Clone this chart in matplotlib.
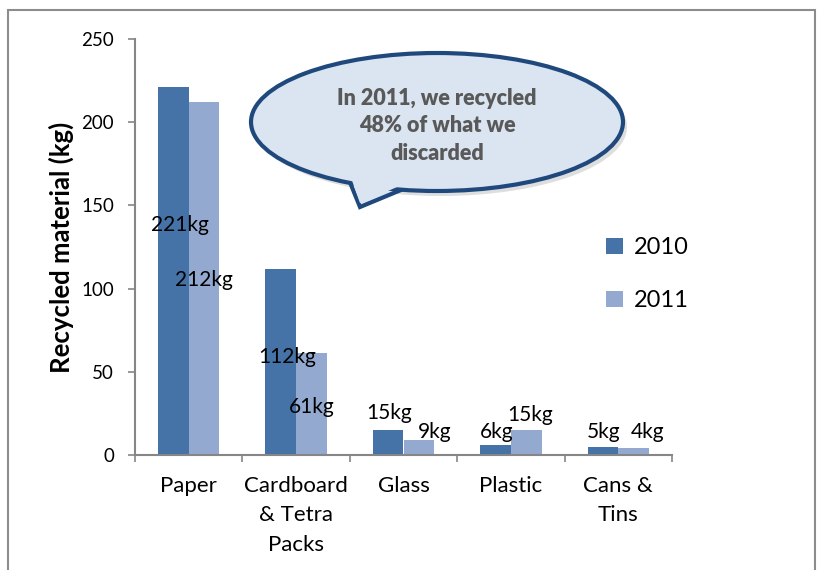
import numpy as np
import matplotlib.pyplot as plt
from matplotlib.patches import Rectangle, Ellipse, Polygon

categories = ['Paper', 'Cardboard\n& Tetra\nPacks', 'Glass', 'Plastic', 'Cans &\nTins']
kg_2010 = [221, 112, 15, 6, 5]
kg_2011 = [212, 61, 9, 15, 4]
years = ['2010', '2011']
y_ticks = [0, 50, 100, 150, 200, 250]

# where the labels sit (x offset from category centre, y in data units)
lab_2010 = [(-0.08, 138), (-0.08, 59), (-0.136, 25), (-0.136, 14), (-0.136, 14)]
lab_2011 = [(0.145, 105), (0.145, 29), (0.294, 14), (0.18, 24), (0.276, 14)]

c2010 = '#4572a7'
c2011 = '#93a9cf'
axis_grey = '#868686'
font = 'Lato'

fig = plt.figure(figsize=(8.17, 5.70), dpi=100)
W, H = 817, 570

# outer chart frame
fig.patches.append(Rectangle((8/W, -0.05), (815-8)/W, (H-10)/H + 0.05,
                             transform=fig.transFigure, fill=False,
                             edgecolor='#8c8c8c', linewidth=1.5))

ax = fig.add_axes([135/W, (H-455)/H, (672-135)/W, (455-39)/H])
x = np.arange(len(categories))
w = 0.285
ax.bar(x - w/2, kg_2010, w, color=c2010, label=years[0])
ax.bar(x + w/2, kg_2011, w, color=c2011, label=years[1])

ax.set_xlim(-0.5, len(categories) - 0.5)
ax.set_ylim(0, 250)
ax.set_yticks(y_ticks)
ax.set_yticklabels([str(t) for t in y_ticks], fontsize=13.5, family=font)
ax.set_xticks(x)
ax.set_xticklabels(categories, fontsize=16, family=font, linespacing=1.6)
ax.set_xticks(np.arange(len(categories) + 1) - 0.5, minor=True)
ax.tick_params(axis='x', which='major', length=0, pad=15)
ax.tick_params(axis='x', which='minor', length=5, color=axis_grey, width=1.2)
ax.tick_params(axis='y', length=5, color=axis_grey, width=1.2, pad=10)
for s in ['top', 'right']:
    ax.spines[s].set_visible(False)
for s in ['left', 'bottom']:
    ax.spines[s].set_color(axis_grey)
    ax.spines[s].set_linewidth(1.5)

ax.set_ylabel('Recycled material (kg)', fontsize=18.5, fontweight='bold', family=font, labelpad=5)

for i in range(len(categories)):
    dx, yy = lab_2010[i]
    ax.text(i + dx, yy, f'{kg_2010[i]}kg', ha='center', va='center', fontsize=15, family=font)
    dx, yy = lab_2011[i]
    ax.text(i + dx, yy, f'{kg_2011[i]}kg', ha='center', va='center', fontsize=15, family=font)

leg = ax.legend(loc='upper left', bbox_to_anchor=((597-135)/(672-135), (455-228)/(455-39)),
                frameon=False, prop={'family': font, 'size': 17}, handlelength=0.7,
                handleheight=0.7, labelspacing=1.35, handletextpad=0.45, borderaxespad=0)
leg.set_clip_on(False)

# speech bubble
bcx, bcy = 437, 122
fig.patches.append(Ellipse(((bcx+4)/W, (H-bcy-5)/H), 372/W, 138/H, transform=fig.transFigure,
                           facecolor='#c8c8c8', edgecolor='none', alpha=0.6))
tail = [(347, 175), (360, 207), (413, 185)]
fig.patches.append(Polygon([(px/W, (H-py)/H) for px, py in tail], closed=True,
                           transform=fig.transFigure, facecolor='#dbe5f1',
                           edgecolor='#1f497d', linewidth=3, joinstyle='miter'))
fig.patches.append(Ellipse((bcx/W, (H-bcy)/H), 372/W, 138/H, transform=fig.transFigure,
                           facecolor='#dbe5f1', edgecolor='#1f497d', linewidth=3))
fig.patches.append(Polygon([((px)/W, (H-py)/H) for px, py in [(349, 172), (360, 203), (411, 181)]],
                           closed=True, transform=fig.transFigure, facecolor='#dbe5f1',
                           edgecolor='none'))
fig.text(bcx/W, (H-126)/H, 'In 2011, we recycled\n48% of what we\ndiscarded', ha='center', va='center',
         fontsize=15.5, fontweight='heavy', color='#595959', family=font, linespacing=1.4)

fig.savefig('out.png', dpi=100)
